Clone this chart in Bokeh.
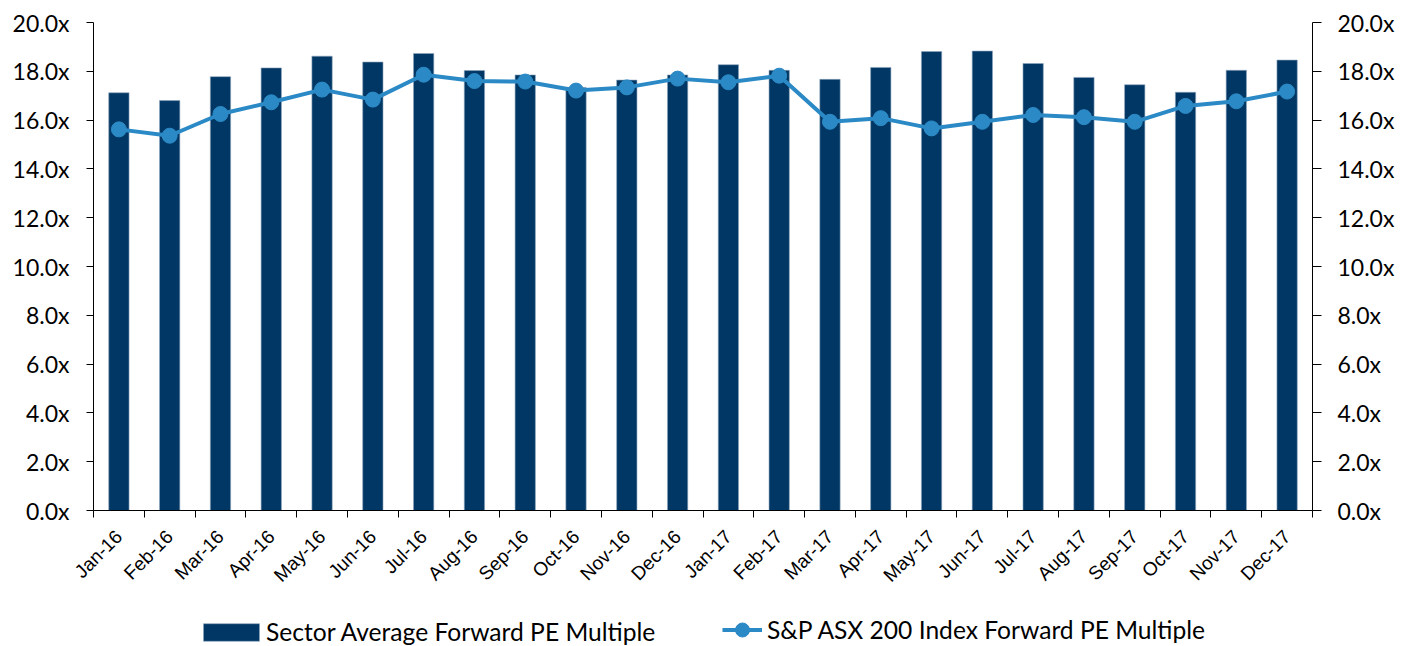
from bokeh.plotting import figure
from bokeh.models import (Range1d, LinearAxis, FixedTicker, PrintfTickFormatter,
                          Legend, LegendItem, ColumnDataSource)
from bokeh.layouts import column
from bokeh.embed import file_html
from bokeh.resources import INLINE
import math

months = ["Jan-16", "Feb-16", "Mar-16", "Apr-16", "May-16", "Jun-16", "Jul-16", "Aug-16",
          "Sep-16", "Oct-16", "Nov-16", "Dec-16", "Jan-17", "Feb-17", "Mar-17", "Apr-17",
          "May-17", "Jun-17", "Jul-17", "Aug-17", "Sep-17", "Oct-17", "Nov-17", "Dec-17"]
sector_pe = [17.12, 16.80, 17.78, 18.14, 18.62, 18.38, 18.73, 18.03,
             17.85, 17.34, 17.64, 17.85, 18.27, 18.04, 17.67, 18.16,
             18.81, 18.83, 18.32, 17.75, 17.45, 17.14, 18.04, 18.46]
asx200_pe = [15.62, 15.36, 16.25, 16.73, 17.25, 16.84, 17.86, 17.60,
             17.58, 17.21, 17.34, 17.70, 17.55, 17.82, 15.93, 16.08,
             15.66, 15.93, 16.21, 16.12, 15.93, 16.58, 16.77, 17.17]
y_ticks = [0, 2, 4, 6, 8, 10, 12, 14, 16, 18, 20]
series_names = ["Sector Average Forward PE Multiple", "S&P ASX 200 Index Forward PE Multiple"]

n = len(months)
xs = list(range(n))
src = ColumnDataSource(dict(x=xs, sector=sector_pe, asx=asx200_pe))

BAR = "#003764"
LINE = "#2B8AC6"
BAR_EDGE = "#8FA6BD"
FONT_NUM = "Lato"

p = figure(width=1403, height=598, output_backend="svg", toolbar_location=None,
           x_range=Range1d(-0.5, n - 0.5), y_range=Range1d(0, 20),
           min_border_left=93, min_border_right=91, min_border_top=22, min_border_bottom=88)
p.xgrid.visible = False
p.ygrid.visible = False
p.outline_line_color = None

p.vbar(x="x", top="sector", width=0.4, source=src, fill_color=BAR,
       line_color=BAR_EDGE, line_width=0.6)
p.line(x="x", y="asx", source=src, line_color=LINE, line_width=4)
p.scatter(x="x", y="asx", source=src, size=15, fill_color=LINE, line_color=LINE)

# x axis
xa = p.xaxis[0]
xa.ticker = FixedTicker(ticks=xs, minor_ticks=[i - 0.5 for i in range(n + 1)])
xa.major_label_overrides = {i: m for i, m in enumerate(months)}
xa.major_tick_line_color = None
xa.minor_tick_in = 0
xa.minor_tick_out = 7
xa.minor_tick_line_color = "black"
xa.axis_line_color = "black"
xa.major_label_orientation = math.pi / 4
xa.major_label_text_font = "Liberation Sans"
xa.major_label_text_font_size = "19px"
xa.major_label_text_color = "black"
xa.major_label_standoff = 16

# left y axis
ya = p.yaxis[0]
ya.ticker = FixedTicker(ticks=y_ticks, minor_ticks=[])
ya.formatter = PrintfTickFormatter(format="%.1fx")
ya.major_tick_in = 0
ya.major_tick_out = 7
ya.major_tick_line_color = "black"
ya.axis_line_color = "black"
ya.major_label_text_font = FONT_NUM
ya.major_label_text_font_size = "23px"
ya.major_label_text_color = "black"
ya.major_label_standoff = 17

# right y axis
p.extra_y_ranges = {"r": Range1d(0, 20)}
ra = LinearAxis(y_range_name="r", ticker=FixedTicker(ticks=y_ticks, minor_ticks=[]),
                formatter=PrintfTickFormatter(format="%.1fx"))
ra.major_tick_in = 0
ra.major_tick_out = 9
ra.major_tick_line_color = "black"
ra.axis_line_color = "black"
ra.major_label_text_font = FONT_NUM
ra.major_label_text_font_size = "23px"
ra.major_label_text_color = "black"
ra.major_label_standoff = 16
p.add_layout(ra, "right")

# legend figure (NaN dummy glyphs carry the legend swatches)
lf = figure(width=1403, height=55, output_backend="svg", toolbar_location=None,
            x_range=Range1d(0, 1), y_range=Range1d(0, 1),
            min_border_left=0, min_border_right=0, min_border_top=0, min_border_bottom=0)
lf.axis.visible = False
lf.xgrid.visible = False
lf.ygrid.visible = False
lf.outline_line_color = None
nan = float("nan")
dummy = ColumnDataSource(dict(x=[nan], y=[nan]))
lb = lf.vbar(x="x", top="y", bottom=0, width=0.4, source=dummy, fill_color=BAR,
             line_color=BAR_EDGE, line_width=0.6)
ll = lf.line(x="x", y="y", source=dummy, line_color=LINE, line_width=4)
lm = lf.scatter(x="x", y="y", source=dummy, size=15, fill_color=LINE, line_color=LINE)


def style(lg):
    lg.orientation = "horizontal"
    lg.label_text_font = "Lato"
    lg.label_text_font_size = "24.6px"
    lg.label_text_color = "black"
    lg.label_height = 20
    lg.padding = 0
    lg.margin = 0
    lg.border_line_color = None
    lg.background_fill_alpha = 0


leg1 = Legend(items=[LegendItem(label=series_names[0], renderers=[lb])], location=(103, 7))
style(leg1)
leg1.glyph_width = 70
leg1.glyph_height = 22
leg1.label_standoff = -8
lf.add_layout(leg1, "center")

leg2 = Legend(items=[LegendItem(label=series_names[1], renderers=[ll, lm])], location=(629, 6))
style(leg2)
leg2.glyph_width = 40
leg2.glyph_height = 35
leg2.label_standoff = 5
lf.add_layout(leg2, "center")

layout = column(p, lf, spacing=0)
open("out.html", "w").write(file_html(layout, INLINE))
